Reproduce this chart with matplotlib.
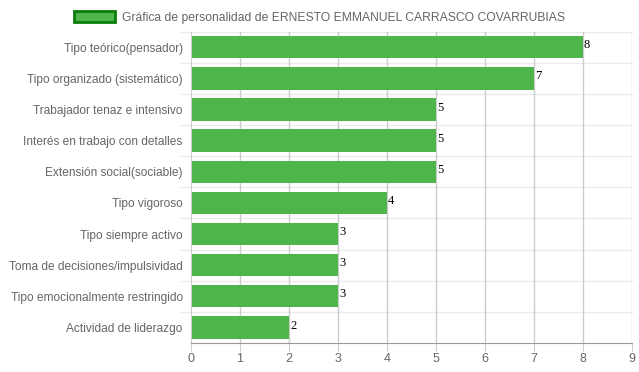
import numpy as np
import matplotlib.pyplot as plt

labels = [
    "Tipo teórico(pensador)",
    "Tipo organizado (sistemático)",
    "Trabajador tenaz e intensivo",
    "Interés en trabajo con detalles",
    "Extensión social(sociable)",
    "Tipo vigoroso",
    "Tipo siempre activo",
    "Toma de decisiones/impulsividad",
    "Tipo emocionalmente restringido",
    "Actividad de liderazgo",
]
values = [8, 7, 5, 5, 5, 4, 3, 3, 3, 2]
ticks = list(range(0, 10))
legend_label = "Gráfica de personalidad de ERNESTO EMMANUEL CARRASCO COVARRUBIAS"

plt.rcParams['font.family'] = ['Liberation Sans', 'DejaVu Sans']

fig = plt.figure(figsize=(6.39, 3.72), dpi=100)
ax = fig.add_axes([0.2989, 0.078, 0.9890 - 0.2989, 0.915 - 0.078])

y = np.arange(len(labels))
bars = ax.barh(y, values, height=0.72, color='#4db54b', zorder=2,
               label=legend_label)

ax.set_ylim(len(labels) - 0.5, -0.5)
ax.set_xlim(0, 9)
ax.set_xticks(ticks)
ax.set_yticks(y)
ax.set_yticklabels(labels)

# vertical grid
for t in ticks[1:]:
    ax.axvline(t, color='#cccccc', lw=1, zorder=1)
# horizontal lines between categories, extending into tick area
for b in np.arange(-0.5, len(labels) - 0.5, 1.0):
    ax.plot([-0.22, 9], [b, b], color='#ebebeb', lw=1, zorder=0, clip_on=False)

for s in ['top', 'right']:
    ax.spines[s].set_visible(False)
ax.spines['left'].set_color('#cccccc')
ax.spines['bottom'].set_color('#999999')

ax.tick_params(axis='y', length=0, pad=6, labelsize=8.6, labelcolor='#666666')
ax.tick_params(axis='x', length=6, color='#cccccc', pad=1, labelsize=9,
               labelcolor='#666666')

for yi, v in zip(y, values):
    ax.text(v + 0.02, yi - 0.06, str(v), fontsize=9, family='Liberation Serif',
            color='black', ha='left', va='center', zorder=3)

leg = fig.legend(handles=[plt.Rectangle((0, 0), 1, 1, facecolor='#4db54b',
                                        edgecolor='#0a7d0a', lw=2)],
                 labels=[legend_label], loc='upper center',
                 bbox_to_anchor=(0.5, 1.0), frameon=False, fontsize=8.7,
                 handlelength=3.4, handleheight=1.1, handletextpad=0.6)
for t in leg.get_texts():
    t.set_color('#666666')

fig.savefig('out.png', dpi=100)
